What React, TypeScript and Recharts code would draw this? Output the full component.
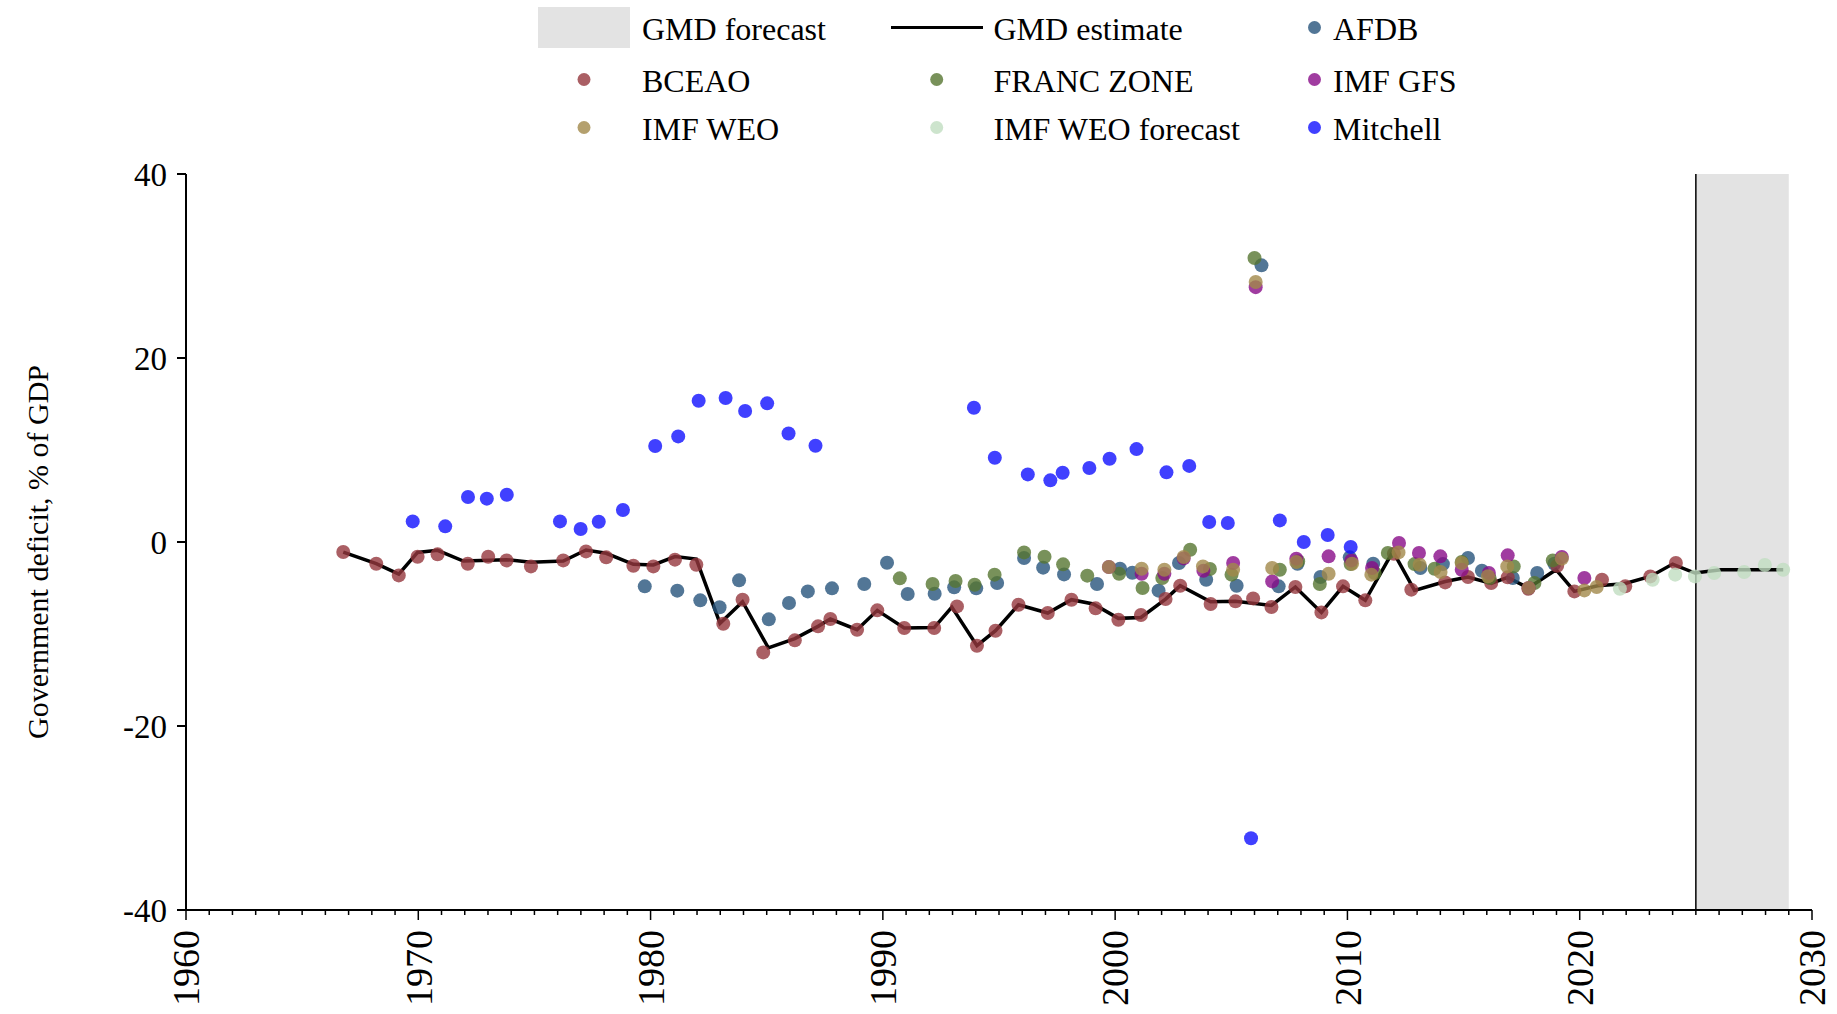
import { ScatterChart, Scatter, XAxis, YAxis, ReferenceArea, ReferenceLine } from 'recharts'

const FONT = '"Liberation Serif", "Times New Roman", serif'

// [year, deficit % of GDP]
const gmdEstimate: [number, number][] = [
  [1966.77, -1.09], [1968.19, -2.36], [1969.16, -3.5], [1969.97, -1.13], [1970.83, -0.9],
  [1971.94, -2.07], [1973.8, -1.92], [1974.85, -2.2], [1976.24, -2.07], [1977.22, -0.87],
  [1978.09, -1.23], [1979.26, -2.43], [1980.12, -2.5], [1981.05, -1.59], [1981.97, -1.85],
  [1982.99, -8.84], [1983.96, -6.49], [1985.07, -11.5], [1986.21, -10.5], [1987.21, -9.17],
  [1987.74, -8.37], [1988.89, -9.53], [1989.76, -7.43], [1990.92, -9.35], [1992.21, -9.3],
  [1992.97, -7.07], [1994.05, -11.27], [1994.85, -9.64], [1995.84, -6.82], [1997.1, -7.72],
  [1998.12, -6.27], [1999.06, -6.74], [2000.14, -8.3], [2001.11, -8.2], [2002.17, -6.2],
  [2002.8, -4.75], [2004.11, -6.5], [2005.18, -6.45], [2006.73, -6.9], [2007.76, -4.89],
  [2008.88, -7.65], [2009.81, -4.82], [2010.77, -6.34], [2011.96, -1.02], [2012.89, -5.26],
  [2014.21, -4.3], [2015.19, -3.8], [2016.19, -4.5], [2016.9, -3.84], [2017.79, -5.0],
  [2018.98, -3.01], [2019.77, -5.37], [2020.77, -4.75], [2021.92, -4.53], [2023.04, -3.74],
  [2024.0, -2.4], [2024.96, -3.37], [2026.08, -3.01], [2028.76, -3.01],
]

const afdb: [number, number][] = [
  [1979.75, -4.82], [1981.15, -5.29], [1982.14, -6.34], [1982.97, -7.1], [1983.81, -4.17],
  [1985.09, -8.41], [1985.96, -6.63], [1986.77, -5.37], [1987.81, -5.04], [1989.2, -4.57],
  [1990.18, -2.25], [1991.07, -5.65], [1992.23, -5.62], [1993.07, -4.93], [1994.02, -5.04],
  [1994.92, -4.46], [1996.08, -1.74], [1996.9, -2.79], [1997.8, -3.52], [1999.22, -4.57],
  [2000.21, -2.9], [2000.74, -3.34], [2001.87, -5.29], [2002.75, -2.28], [2003.92, -4.1],
  [2005.23, -4.75], [2006.3, 30.07], [2007.04, -4.82], [2007.85, -2.36], [2008.84, -3.81],
  [2010.1, -1.67], [2011.11, -2.36], [2013.14, -2.83], [2014.11, -2.4], [2015.19, -1.74],
  [2015.79, -3.12], [2017.12, -3.92], [2018.17, -3.37], [2018.91, -2.36],
]

const bceao: [number, number][] = [
  [1966.77, -1.09], [1968.19, -2.36], [1969.16, -3.63], [1969.97, -1.6], [1970.83, -1.34],
  [1972.13, -2.36], [1973.01, -1.6], [1973.8, -2.0], [1974.85, -2.65], [1976.24, -2.0],
  [1977.22, -1.02], [1978.09, -1.67], [1979.26, -2.58], [1980.12, -2.65], [1981.05, -1.92],
  [1981.97, -2.47], [1983.13, -8.88], [1983.96, -6.27], [1984.85, -12.0], [1986.21, -10.69],
  [1987.21, -9.17], [1987.74, -8.37], [1988.89, -9.53], [1989.76, -7.43], [1990.92, -9.35],
  [1992.21, -9.35], [1993.19, -7.0], [1994.05, -11.27], [1994.85, -9.64], [1995.84, -6.82],
  [1997.1, -7.72], [1998.12, -6.27], [1999.16, -7.21], [2000.14, -8.45], [2001.11, -7.94],
  [2002.17, -6.2], [2002.8, -4.75], [2004.11, -6.74], [2005.18, -6.45], [2005.94, -6.13],
  [2006.73, -7.07], [2007.76, -4.89], [2008.88, -7.65], [2009.81, -4.82], [2010.77, -6.34],
  [2012.0, -1.27], [2012.75, -5.18], [2014.21, -4.39], [2015.19, -3.81], [2016.19, -4.46],
  [2016.9, -3.84], [2017.79, -5.08], [2019.03, -2.58], [2019.77, -5.37], [2020.96, -4.1],
  [2021.96, -4.82], [2023.04, -3.74], [2024.14, -2.29],
]

const francZone: [number, number][] = [
  [1990.73, -3.95], [1992.14, -4.57], [1993.13, -4.24], [1993.95, -4.64], [1994.81, -3.55],
  [1996.08, -1.13], [1996.96, -1.6], [1997.76, -2.43], [1998.8, -3.66], [2000.17, -3.45],
  [2001.18, -5.0], [2002.03, -3.92], [2003.23, -0.84], [2004.08, -2.94], [2005.01, -3.55],
  [2006.0, 30.87], [2007.09, -3.01], [2007.88, -2.1], [2008.81, -4.57], [2010.14, -2.4],
  [2011.17, -3.37], [2011.74, -1.2], [2012.89, -2.4], [2013.75, -2.9], [2014.92, -2.18],
  [2016.12, -3.92], [2017.16, -2.65], [2018.05, -4.46], [2018.84, -2.0],
]

const imfGfs: [number, number][] = [
  [1999.73, -2.72], [2001.14, -3.45], [2002.12, -3.45], [2002.95, -1.78], [2003.8, -3.12],
  [2005.08, -2.28], [2006.05, 27.7], [2006.76, -4.28], [2007.8, -1.81], [2009.19, -1.56],
  [2010.17, -2.0], [2011.06, -2.83], [2012.22, -0.11], [2013.08, -1.2], [2014.0, -1.56],
  [2014.92, -3.01], [2016.09, -3.37], [2016.9, -1.45], [2017.8, -5.0], [2019.23, -1.63],
  [2020.2, -3.92],
]

const imfWeo: [number, number][] = [
  [1999.73, -2.72], [2001.14, -2.9], [2002.12, -3.01], [2002.95, -1.63], [2003.78, -2.65],
  [2005.08, -3.01], [2006.05, 28.26], [2006.76, -2.83], [2007.8, -2.18], [2009.19, -3.45],
  [2010.2, -2.36], [2011.03, -3.55], [2012.2, -1.13], [2013.11, -2.47], [2014.01, -3.26],
  [2014.92, -2.29], [2016.05, -3.73], [2016.88, -2.65], [2017.8, -5.0], [2019.23, -1.81],
  [2020.2, -5.26], [2020.73, -4.89],
]

const imfWeoForecast: [number, number][] = [
  [2021.73, -5.08], [2023.14, -4.1], [2024.11, -3.55], [2024.96, -3.74], [2025.79, -3.37],
  [2027.08, -3.26], [2027.97, -2.5], [2028.76, -3.01],
]

const mitchell: [number, number][] = [
  [1969.76, 2.24], [1971.16, 1.7], [1972.14, 4.89], [1972.95, 4.71], [1973.81, 5.14],
  [1976.1, 2.24], [1976.99, 1.41], [1977.77, 2.2], [1978.81, 3.48], [1980.2, 10.43],
  [1981.19, 11.48], [1982.07, 15.36], [1983.23, 15.65], [1984.07, 14.24], [1985.02, 15.07],
  [1985.94, 11.8], [1987.1, 10.47], [1993.92, 14.6], [1994.82, 9.16], [1996.24, 7.35],
  [1997.21, 6.7], [1997.74, 7.53], [1998.89, 8.04], [1999.76, 9.05], [2000.92, 10.1],
  [2002.21, 7.57], [2003.19, 8.27], [2004.05, 2.17], [2004.85, 2.06], [2005.85, -32.2],
  [2007.09, 2.35], [2008.12, 0.0], [2009.15, 0.76], [2010.14, -0.54],
]

const forecastStart = 2025
const forecastEnd = 2029
const yTicks = [-40, -20, 0, 20, 40]
const xTicks = Array.from({ length: 71 }, (_, i) => 1960 + i)

const toPts = (arr: [number, number][]) => arr.map(([x, y]) => ({ x, y }))

const sources = [
  { name: 'AFDB', data: afdb, color: '#27547c' },
  { name: 'BCEAO', data: bceao, color: '#95373d' },
  { name: 'FRANC ZONE', data: francZone, color: '#567531' },
  { name: 'IMF GFS', data: imfGfs, color: '#880b88' },
  { name: 'IMF WEO', data: imfWeo, color: '#a1884a' },
  { name: 'IMF WEO forecast', data: imfWeoForecast, color: '#c0ddc0' },
  { name: 'Mitchell', data: mitchell, color: '#1010ff' },
]

const dot = (color: string) => (p: any) =>
  <circle cx={p.cx} cy={p.cy} r={7} fill={color} fillOpacity={0.8} />

function XTick({ x, y, payload }: any) {
  const major = payload.value % 10 === 0
  return (
    <g>
      <line x1={x} y1={y} x2={x} y2={y + (major ? 10 : 5)} stroke="#000" strokeWidth={1.5} />
      {major && (
        <text
          x={x}
          y={y + 20}
          transform={`rotate(-90, ${x}, ${y + 20})`}
          textAnchor="end"
          dy="0.35em"
          fontSize={38}
          fontFamily={FONT}
          fill="#000"
        >
          {payload.value}
        </text>
      )}
    </g>
  )
}

function Overlay() {
  const cols = [584, 936.7, 1314.5]
  const rows = [27.5, 79.5, 127.5]
  const txt = (x: number, rowY: number, s: string) => (
    <text x={x} y={rowY + 12.5} fontSize={32} fontFamily={FONT} fill="#000">{s}</text>
  )
  const byName = (n: string) => sources.find((s) => s.name === n)!.color
  const markers = [
    ['BCEAO', 0, 1], ['IMF WEO', 0, 2],
    ['FRANC ZONE', 1, 1], ['IMF WEO forecast', 1, 2],
    ['AFDB', 2, 0], ['IMF GFS', 2, 1], ['Mitchell', 2, 2],
  ] as [string, number, number][]
  const textX = [642, 993.5, 1333]
  return (
    <svg width={1837} height={1014} style={{ position: 'absolute', left: 0, top: 0, pointerEvents: 'none' }}>
      <rect x={538} y={7} width={92} height={41} fill="#e3e3e3" />
      {txt(textX[0], rows[0], 'GMD forecast')}
      <line x1={891} y1={rows[0]} x2={983} y2={rows[0]} stroke="#000" strokeWidth={3} />
      {txt(textX[1], rows[0], 'GMD estimate')}
      {markers.map(([n, c, r]) => (
        <g key={n}>
          <circle cx={cols[c]} cy={rows[r]} r={6.5} fill={byName(n)} fillOpacity={0.8} />
          {txt(textX[c], rows[r], n)}
        </g>
      ))}
      <text
        x={37}
        y={552}
        transform="rotate(-90, 37, 552)"
        textAnchor="middle"
        dominantBaseline="central"
        fontSize={30}
        fontFamily={FONT}
        fill="#000"
      >
        Government deficit, % of GDP
      </text>
    </svg>
  )
}

export default function App() {
  return (
    <div style={{ position: 'absolute', left: 0, top: 0, width: 1837, height: 1014, background: '#fff' }}>
      <ScatterChart width={1837} height={1014} margin={{ top: 174, right: 25, bottom: 0, left: 0 }}>
        <ReferenceArea
          x1={forecastStart}
          x2={forecastEnd}
          y1={-40}
          y2={40}
          fill="#e3e3e3"
          fillOpacity={1}
          stroke="none"
        />
        <ReferenceLine x={forecastStart} stroke="#000" strokeWidth={1.5} />
        <XAxis
          type="number"
          dataKey="x"
          domain={[1960, 2030]}
          ticks={xTicks}
          interval={0}
          tick={<XTick />}
          tickLine={false}
          tickSize={0}
          tickMargin={0}
          axisLine={{ stroke: '#000', strokeWidth: 2 }}
          height={104}
          allowDataOverflow
        />
        <YAxis
          type="number"
          dataKey="y"
          domain={[-40, 40]}
          ticks={yTicks}
          width={186}
          tickSize={9}
          tickMargin={10}
          tickLine={{ stroke: '#000', strokeWidth: 2 }}
          axisLine={{ stroke: '#000', strokeWidth: 2 }}
          tick={{ fontSize: 33, fill: '#000', fontFamily: FONT }}
          allowDataOverflow
        />
        <Scatter
          name="GMD estimate"
          data={toPts(gmdEstimate)}
          line={{ stroke: '#000', strokeWidth: 3.5 }}
          shape={() => <g />}
          isAnimationActive={false}
        />
        {sources.map((s) => (
          <Scatter
            key={s.name}
            name={s.name}
            data={toPts(s.data)}
            fill={s.color}
            shape={dot(s.color)}
            isAnimationActive={false}
          />
        ))}
      </ScatterChart>
      <Overlay />
    </div>
  )
}
